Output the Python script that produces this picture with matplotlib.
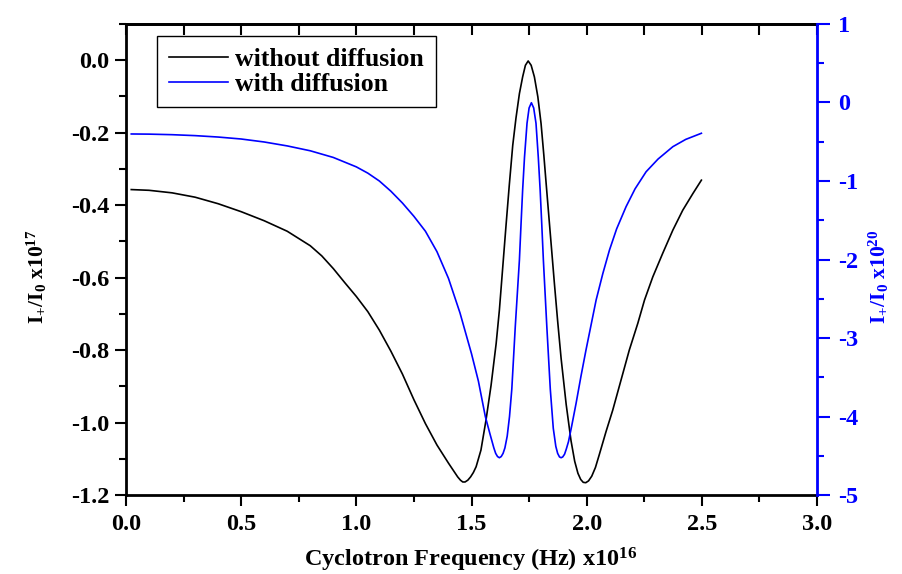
import numpy as np
import matplotlib
matplotlib.use("Agg")
import matplotlib.pyplot as plt
from matplotlib.ticker import MultipleLocator

plt.rcParams["font.family"] = ["Liberation Serif", "DejaVu Serif"]
plt.rcParams["font.weight"] = "bold"
plt.rcParams["axes.unicode_minus"] = False
plt.rcParams["mathtext.fontset"] = "custom"
plt.rcParams["mathtext.rm"] = "Liberation Serif:bold"
plt.rcParams["mathtext.it"] = "Liberation Serif:bold"
plt.rcParams["mathtext.bf"] = "Liberation Serif:bold"

# I+/I0 without diffusion (left axis, x10^17)
freq_nodiff = [0.023, 0.10, 0.20, 0.30, 0.40, 0.50, 0.60, 0.70, 0.80, 0.85,
               0.90, 0.95, 1.00, 1.05, 1.10, 1.15, 1.20, 1.25, 1.30, 1.35,
               1.40, 1.42, 1.44, 1.452, 1.462, 1.472, 1.484, 1.496, 1.508,
               1.520, 1.541, 1.563, 1.585, 1.607, 1.621, 1.638, 1.650, 1.664,
               1.679, 1.693, 1.708, 1.722, 1.734, 1.746, 1.759, 1.773, 1.788,
               1.802, 1.814, 1.824, 1.838, 1.850, 1.860, 1.874, 1.889, 1.911,
               1.932, 1.948, 1.962, 1.974, 1.985, 1.996, 2.008, 2.022, 2.038,
               2.055, 2.084, 2.113, 2.149, 2.185, 2.222, 2.251, 2.287, 2.330,
               2.374, 2.417, 2.461, 2.498]
i_nodiff = [-0.357, -0.359, -0.366, -0.378, -0.396, -0.418, -0.443, -0.472,
            -0.512, -0.540, -0.575, -0.614, -0.652, -0.694, -0.745, -0.803,
            -0.866, -0.937, -1.003, -1.062, -1.112, -1.131, -1.150, -1.159,
            -1.164, -1.164, -1.159, -1.150, -1.138, -1.122, -1.076, -0.993,
            -0.897, -0.782, -0.690, -0.552, -0.455, -0.345, -0.235, -0.160,
            -0.092, -0.046, -0.014, -0.002, -0.014, -0.046, -0.101, -0.175,
            -0.262, -0.340, -0.448, -0.540, -0.617, -0.720, -0.823, -0.950,
            -1.050, -1.107, -1.140, -1.157, -1.165, -1.166, -1.161, -1.148,
            -1.124, -1.088, -1.025, -0.966, -0.883, -0.800, -0.726, -0.662,
            -0.598, -0.533, -0.469, -0.414, -0.368, -0.331]

# I+/I0 with diffusion (right axis, x10^20)
freq_diff = [0.023, 0.10, 0.20, 0.30, 0.40, 0.50, 0.60, 0.70, 0.80, 0.90,
             1.00, 1.05, 1.10, 1.15, 1.20, 1.25, 1.30, 1.35, 1.40, 1.45,
             1.50, 1.53, 1.56, 1.58, 1.597, 1.605, 1.613, 1.621, 1.629,
             1.637, 1.645, 1.655, 1.665, 1.675, 1.690, 1.708, 1.715, 1.722,
             1.730, 1.741, 1.750, 1.760, 1.770, 1.780, 1.790, 1.798, 1.805,
             1.812, 1.827, 1.842, 1.855, 1.866, 1.874, 1.882, 1.889, 1.896,
             1.904, 1.912, 1.921, 1.935, 1.954, 1.975, 1.997, 2.020, 2.041,
             2.070, 2.099, 2.130, 2.171, 2.210, 2.258, 2.310, 2.374, 2.430,
             2.498]
i_diff = [-0.401, -0.403, -0.410, -0.422, -0.440, -0.465, -0.503, -0.553,
          -0.615, -0.700, -0.820, -0.900, -1.000, -1.130, -1.280, -1.450,
          -1.640, -1.900, -2.240, -2.680, -3.200, -3.550, -4.000, -4.220,
          -4.400, -4.470, -4.510, -4.525, -4.510, -4.470, -4.400, -4.250,
          -4.000, -3.650, -2.856, -2.006, -1.550, -1.115, -0.700, -0.265,
          -0.070, -0.003, -0.070, -0.265, -0.700, -1.115, -1.550, -2.006,
          -2.856, -3.650, -4.150, -4.380, -4.470, -4.515, -4.525, -4.515,
          -4.480, -4.410, -4.320, -4.120, -3.832, -3.490, -3.153, -2.820,
          -2.516, -2.180, -1.879, -1.610, -1.327, -1.100, -0.882, -0.720,
          -0.563, -0.470, -0.392]

BLUE = "#0000ff"
TICK_FS = 17.5
YLAB_FS = 15.5

fig = plt.figure(figsize=(9.03, 5.74), dpi=100)
ax = fig.add_axes([0.1395, 0.1376, 0.7653, 0.8206])
ax2 = ax.twinx()

l1, = ax.plot(freq_nodiff, i_nodiff, color="black", lw=1.2, label="without diffusion")
l2, = ax2.plot(freq_diff, i_diff, color=BLUE, lw=1.2, label="with diffusion")

ax.set_xlim(0, 3.0)
ax.set_ylim(-1.2, 0.1)
ax2.set_ylim(-5, 1)

xt = np.arange(0, 3.01, 0.5)
yt = np.arange(-1.2, 0.01, 0.2)
ax.set_xticks(xt)
ax.set_xticklabels([f"{v:.1f}" for v in xt])
ax.set_yticks(yt)
ax.set_yticklabels(["0.0" if abs(v) < 1e-9 else f"{v:.1f}" for v in yt])
ax.xaxis.set_minor_locator(MultipleLocator(0.25))
ax.yaxis.set_minor_locator(MultipleLocator(0.1))
ax2.yaxis.set_major_locator(MultipleLocator(1))
ax2.yaxis.set_minor_locator(MultipleLocator(0.5))

ax.tick_params(axis="both", which="major", direction="out", length=8, width=1.5,
               labelsize=TICK_FS)
ax.tick_params(axis="x", which="major", pad=6)
ax.tick_params(axis="y", which="major", pad=4)
ax.tick_params(axis="both", which="minor", direction="out", length=5, width=1.5)
ax.tick_params(axis="y", which="both", right=False)
ax2.tick_params(axis="y", which="major", direction="out", length=9, width=1.5,
                colors=BLUE, labelsize=TICK_FS, pad=6)
ax2.tick_params(axis="y", which="minor", direction="out", length=5, width=1.5,
                colors=BLUE)

# inward ticks along the top edge
top = ax.secondary_xaxis("top")
top.xaxis.set_major_locator(MultipleLocator(0.5))
top.xaxis.set_minor_locator(MultipleLocator(0.25))
top.tick_params(which="both", direction="in", length=8, width=1.5, labeltop=False)
top.spines["top"].set_linewidth(2)

for s in ["left", "bottom", "top"]:
    ax.spines[s].set_linewidth(2)
ax.spines["right"].set_visible(False)
for s in ["left", "top", "bottom"]:
    ax2.spines[s].set_visible(False)
ax2.spines["right"].set_color(BLUE)
ax2.spines["right"].set_linewidth(2)

for lab in ax.get_xticklabels() + ax.get_yticklabels():
    lab.set_fontweight("bold")
for lab in ax2.get_yticklabels():
    lab.set_fontweight("bold")
    lab.set_color(BLUE)

ax.set_xlabel(r"Cyclotron Frequency (Hz) x10$^{16}$", fontsize=TICK_FS,
              fontweight="bold")
ax.xaxis.set_label_coords(0.499, -0.108)
ax.set_ylabel(r"$\mathrm{I_{+}/I_{0}}$ x10$^{17}$", fontsize=YLAB_FS,
              fontweight="bold")
ax.yaxis.set_label_coords(-0.112, 0.463)
ax2.set_ylabel(r"$\mathrm{I_{+}/I_{0}}$ x10$^{20}$", fontsize=YLAB_FS,
               fontweight="bold", color=BLUE)
ax2.yaxis.set_label_coords(1.072, 0.463)

leg = fig.legend([l1, l2], ["without diffusion", "with diffusion"],
                 loc="upper left", bbox_to_anchor=(157 / 903, 1 - 36 / 574),
                 bbox_transform=fig.transFigure, borderaxespad=0,
                 fancybox=False, framealpha=1, edgecolor="black",
                 prop={"family": "Liberation Serif", "weight": "bold", "size": 18.5},
                 handlelength=2.3, handletextpad=0.3, labelspacing=0.08,
                 borderpad=0.45)
leg.get_frame().set_linewidth(1.0)

fig.savefig("out.png", dpi=100)
